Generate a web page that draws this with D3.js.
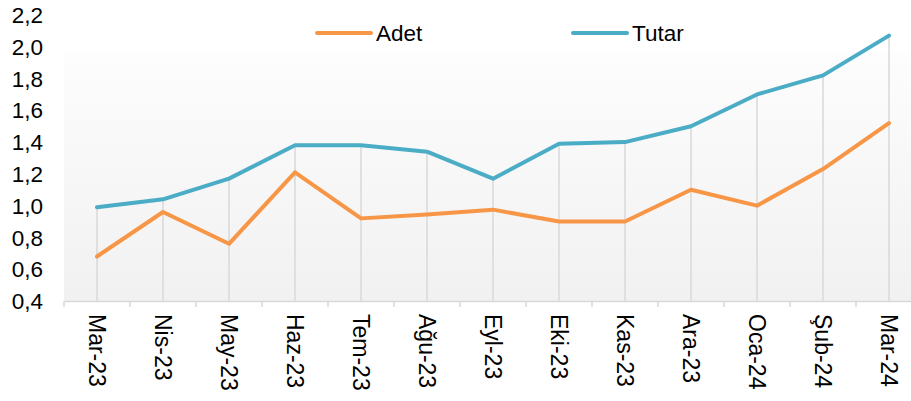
<!DOCTYPE html>
<html>
<head>
<meta charset="utf-8">
<script src="https://cdn.jsdelivr.net/npm/d3@7"></script>
<style>
  html, body { margin: 0; padding: 0; background: #fff; }
  svg { display: block; font-family: "Liberation Sans", Arial, sans-serif; }
</style>
</head>
<body>
<svg id="chart" width="911" height="401"></svg>
<script>
const categories = ["Mar-23","Nis-23","May-23","Haz-23","Tem-23","Ağu-23","Eyl-23","Eki-23","Kas-23","Ara-23","Oca-24","Şub-24","Mar-24"];
const adet  = [0.68, 0.96, 0.76, 1.21, 0.92, 0.945, 0.975, 0.90, 0.90, 1.10, 1.00, 1.23, 1.52];
const tutar = [0.99, 1.04, 1.17, 1.38, 1.38, 1.34, 1.17, 1.39, 1.40, 1.50, 1.70, 1.82, 2.07];
const yTicks = [0.4, 0.6, 0.8, 1.0, 1.2, 1.4, 1.6, 1.8, 2.0, 2.2];
const seriesNames = ["Adet", "Tutar"];
const colors = ["#F79646", "#4BACC6"];

const svg = d3.select("#chart");
const plotLeft = 64, plotRight = 922, plotTop = 15, plotBottom = 301;

const x = d3.scaleBand().domain(categories).range([plotLeft, plotRight]);
const y = d3.scaleLinear().domain([0.4, 2.2]).range([plotBottom, plotTop]);

// background gradient
const defs = svg.append("defs");
const grad = defs.append("linearGradient").attr("id", "bg").attr("x1", 0).attr("y1", 0).attr("x2", 0).attr("y2", 1);
grad.append("stop").attr("offset", "0%").attr("stop-color", "#fdfdfd");
grad.append("stop").attr("offset", "100%").attr("stop-color", "#f1f1f1");
svg.append("rect").attr("x", plotLeft).attr("y", 52).attr("width", plotRight - plotLeft).attr("height", plotBottom - 52).attr("fill", "url(#bg)");

// drop lines
svg.append("g").selectAll("line").data(categories).join("line")
  .attr("x1", d => x(d) + x.bandwidth() / 2)
  .attr("x2", d => x(d) + x.bandwidth() / 2)
  .attr("y1", (d, i) => y(Math.max(adet[i], tutar[i])))
  .attr("y2", y(0.4))
  .attr("stroke", "#d9d9d9").attr("stroke-width", 1.5);

// x axis
const xAxis = svg.append("g").attr("transform", `translate(0,${plotBottom})`)
  .call(d3.axisBottom(x).tickSize(0).tickFormat(""));
xAxis.select(".domain").attr("stroke", "#d9d9d9").attr("stroke-width", 1.5);
svg.append("g").selectAll("line").data(categories.concat(["__end"])).join("line")
  .attr("x1", (d, i) => plotLeft + i * x.bandwidth())
  .attr("x2", (d, i) => plotLeft + i * x.bandwidth())
  .attr("y1", plotBottom).attr("y2", plotBottom + 6)
  .attr("stroke", "#d9d9d9").attr("stroke-width", 1.5);

svg.append("g").selectAll("text").data(categories).join("text")
  .attr("transform", d => `translate(${x(d) + x.bandwidth() / 2},314) rotate(90)`)
  .attr("dy", "0.36em")
  .attr("text-anchor", "start")
  .attr("font-size", "23px")
  .attr("fill", "#000")
  .text(d => d);

// y labels
const fmt = v => d3.format(".1f")(v).replace(".", ",");
svg.append("g").selectAll("text").data(yTicks).join("text")
  .attr("x", 43).attr("y", d => y(d))
  .attr("dy", "0.36em")
  .attr("text-anchor", "end")
  .attr("font-size", "22.5px")
  .attr("fill", "#000")
  .text(fmt);

// lines
const line = d3.line().x((d, i) => x(categories[i]) + x.bandwidth() / 2).y(d => y(d));
[adet, tutar].forEach((s, k) => {
  svg.append("path").datum(s)
    .attr("d", line)
    .attr("fill", "none")
    .attr("stroke", colors[k])
    .attr("stroke-width", 4)
    .attr("stroke-linejoin", "round")
    .attr("stroke-linecap", "round");
});

// legend
const legendX = [317, 573];
seriesNames.forEach((n, k) => {
  svg.append("line").attr("x1", legendX[k]).attr("x2", legendX[k] + 54)
    .attr("y1", 33).attr("y2", 33)
    .attr("stroke", colors[k]).attr("stroke-width", 4).attr("stroke-linecap", "round");
  svg.append("text").attr("x", legendX[k] + 59).attr("y", 33).attr("dy", "0.36em")
    .attr("font-size", "22.5px").attr("fill", "#000").text(n);
});
</script>
</body>
</html>
